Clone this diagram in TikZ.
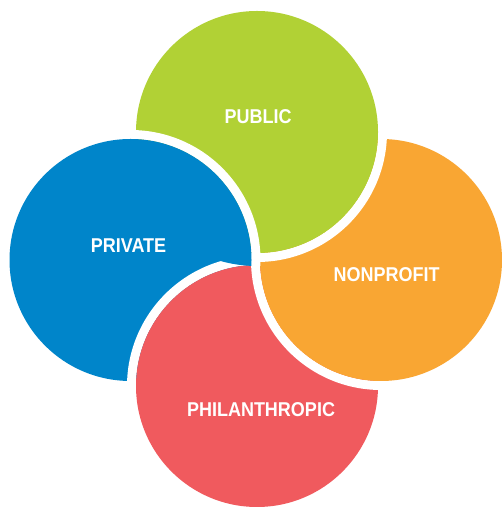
\documentclass[tikz,border=0pt]{standalone}
\usepackage{fontspec}
\setmainfont{Liberation Sans}
\definecolor{privblue}{RGB}{0,133,202}
\definecolor{pubgreen}{RGB}{177,209,53}
\definecolor{nonorange}{RGB}{249,166,51}
\definecolor{philred}{RGB}{240,90,94}
\tikzset{lbl/.style={text=white,font=\fontsize{20}{20}\selectfont\bfseries,xscale=.9,inner sep=0pt}}

\begin{document}
\begin{tikzpicture}[x=1pt,y=1pt]
    \useasboundingbox(0,0) rectangle (502,508);
    \coordinate(Pv) at (130.5,248);
    \coordinate(Pb) at (257,376);
    \coordinate(Np) at (381,248);
    \coordinate(Ph) at (257,122);
    \foreach \C/\col in {Pv/privblue,Ph/philred,Np/nonorange,Pb/pubgreen}{%
        \fill[white,even odd rule](\C) circle (130) circle (121);
        \fill[color=\col](\C) circle (121);
      }
    % blue lies over green
    \begin{scope}
      \clip(Pb) circle (134);
      \fill[white,even odd rule](Pv) circle (130) circle (121);
      \fill[color=privblue](Pv) circle (121);
    \end{scope}
    \node[lbl](public) at (258,391.5){PUBLIC};
    \node[lbl](private) at (128.5,262){PRIVATE};
    \node[lbl](nonprofit) at (386.5,233.5){NONPROFIT};
    \node[lbl](philanthropic) at (261,98){PHILANTHROPIC};
\end{tikzpicture}
\end{document}
